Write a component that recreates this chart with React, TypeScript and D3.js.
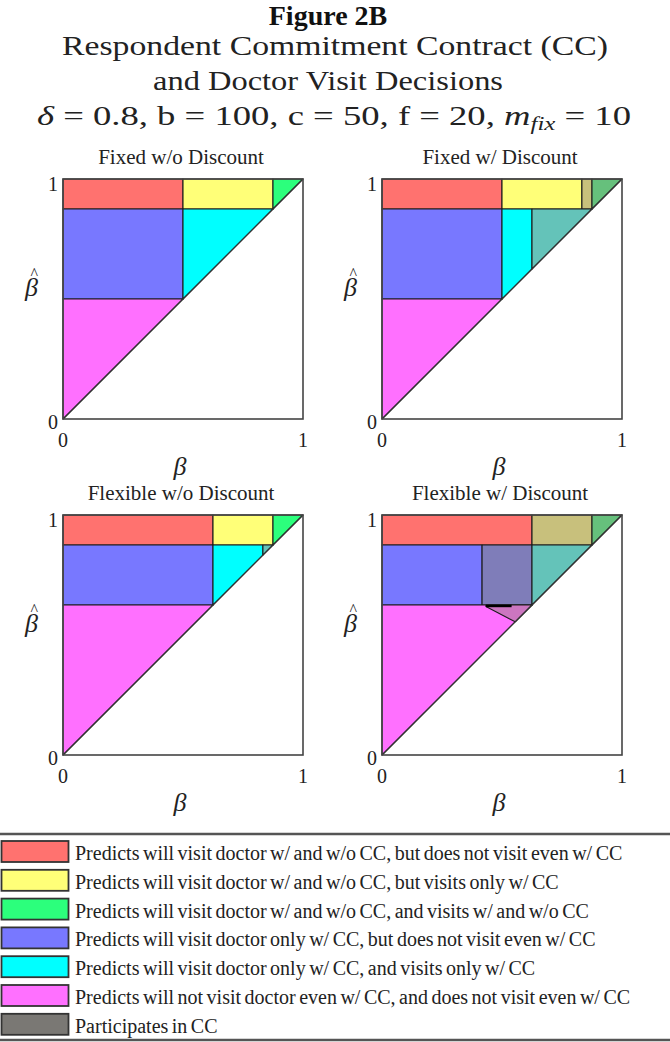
import React from "react";
import * as d3 from "d3";

type Pt = [number, number];
type Region = { fill: string; points: Pt[] };

// Legend categories, in drawing order
const LEGEND_KEYS = ["red", "yellow", "green", "blue", "cyan", "magenta", "gray"];
const LEGEND_LABELS = [
  "Predicts will visit doctor w/ and w/o CC, but does not visit even w/ CC",
  "Predicts will visit doctor w/ and w/o CC, but visits only w/ CC",
  "Predicts will visit doctor w/ and w/o CC, and visits w/ and w/o CC",
  "Predicts will visit doctor only w/ CC, but does not visit even w/ CC",
  "Predicts will visit doctor only w/ CC, and visits only w/ CC",
  "Predicts will not visit doctor even w/ CC, and does not visit even w/ CC",
  "Participates in CC",
];

// Base fills plus the darker fills used where the respondent participates in the CC
const FILLS: Record<string, string> = {
  red: "#ff726f",
  yellow: "#ffff78",
  green: "#2cff7c",
  blue: "#7878ff",
  cyan: "#00ffff",
  magenta: "#ff70ff",
  gray: "#7a7874",
  yellowCC: "#c8c07c",
  greenCC: "#66c07c",
  blueCC: "#7f7db9",
  cyanCC: "#64c3b9",
  magentaCC: "#cc76c0",
};

const PANEL_TITLES = [
  "Fixed w/o Discount",
  "Fixed w/ Discount",
  "Flexible w/o Discount",
  "Flexible w/ Discount",
];

const AXIS_TICKS = [0, 1];

// Decision regions in (β, β̂) space
const fixedNoDiscount: Region[] = [
  { fill: "red", points: [[0, 0.875], [0.5, 0.875], [0.5, 1], [0, 1]] },
  { fill: "yellow", points: [[0.5, 0.875], [0.875, 0.875], [0.875, 1], [0.5, 1]] },
  { fill: "green", points: [[0.875, 0.875], [1, 1], [0.875, 1]] },
  { fill: "blue", points: [[0, 0.5], [0.5, 0.5], [0.5, 0.875], [0, 0.875]] },
  { fill: "cyan", points: [[0.5, 0.5], [0.875, 0.875], [0.5, 0.875]] },
  { fill: "magenta", points: [[0, 0], [0.5, 0.5], [0, 0.5]] },
];

const fixedDiscount: Region[] = [
  { fill: "red", points: [[0, 0.875], [0.5, 0.875], [0.5, 1], [0, 1]] },
  { fill: "yellow", points: [[0.5, 0.875], [0.833, 0.875], [0.833, 1], [0.5, 1]] },
  { fill: "yellowCC", points: [[0.833, 0.875], [0.875, 0.875], [0.875, 1], [0.833, 1]] },
  { fill: "greenCC", points: [[0.875, 0.875], [1, 1], [0.875, 1]] },
  { fill: "blue", points: [[0, 0.5], [0.5, 0.5], [0.5, 0.875], [0, 0.875]] },
  { fill: "cyan", points: [[0.5, 0.5], [0.625, 0.625], [0.625, 0.875], [0.5, 0.875]] },
  { fill: "cyanCC", points: [[0.625, 0.625], [0.875, 0.875], [0.625, 0.875]] },
  { fill: "magenta", points: [[0, 0], [0.5, 0.5], [0, 0.5]] },
];

const flexibleNoDiscount: Region[] = [
  { fill: "red", points: [[0, 0.875], [0.625, 0.875], [0.625, 1], [0, 1]] },
  { fill: "yellow", points: [[0.625, 0.875], [0.875, 0.875], [0.875, 1], [0.625, 1]] },
  { fill: "green", points: [[0.875, 0.875], [1, 1], [0.875, 1]] },
  { fill: "blue", points: [[0, 0.625], [0.625, 0.625], [0.625, 0.875], [0, 0.875]] },
  { fill: "cyan", points: [[0.625, 0.625], [0.833, 0.833], [0.833, 0.875], [0.625, 0.875]] },
  { fill: "cyanCC", points: [[0.833, 0.833], [0.875, 0.875], [0.833, 0.875]] },
  { fill: "magenta", points: [[0, 0], [0.625, 0.625], [0, 0.625]] },
];

const flexibleDiscount: Region[] = [
  { fill: "red", points: [[0, 0.875], [0.625, 0.875], [0.625, 1], [0, 1]] },
  { fill: "yellowCC", points: [[0.625, 0.875], [0.875, 0.875], [0.875, 1], [0.625, 1]] },
  { fill: "greenCC", points: [[0.875, 0.875], [1, 1], [0.875, 1]] },
  { fill: "blue", points: [[0, 0.625], [0.417, 0.625], [0.417, 0.875], [0, 0.875]] },
  { fill: "blueCC", points: [[0.417, 0.625], [0.625, 0.625], [0.625, 0.875], [0.417, 0.875]] },
  { fill: "cyanCC", points: [[0.625, 0.625], [0.875, 0.875], [0.625, 0.875]] },
  { fill: "magenta", points: [[0, 0], [0.625, 0.625], [0, 0.625]] },
  { fill: "magentaCC", points: [[0.433, 0.625], [0.625, 0.625], [0.555, 0.555], [0.433, 0.619]] },
];

// Participation threshold edge drawn heavier in the flexible/discount panel
const flexibleDiscountEdge: Pt[] = [[0.433, 0.621], [0.54, 0.621]];

const PANEL_REGIONS = [fixedNoDiscount, fixedDiscount, flexibleNoDiscount, flexibleDiscount];
const PANEL_EDGES: (Pt[] | null)[] = [null, null, null, flexibleDiscountEdge];

const SERIF = "'Liberation Serif', 'Times New Roman', serif";
const SIZE = 240;
const COL_LEFT = [63, 382];
const ROW_TOP = [179, 515];

function Panel({ index }: { index: number }) {
  const left = COL_LEFT[index % 2];
  const top = ROW_TOP[Math.floor(index / 2)];
  const x = d3.scaleLinear().domain([0, 1]).range([left, left + SIZE]);
  const y = d3.scaleLinear().domain([0, 1]).range([top + SIZE, top]);
  const line = d3.line<Pt>().x((d) => x(d[0])).y((d) => y(d[1]));
  const regions = PANEL_REGIONS[index];
  const edge = PANEL_EDGES[index];
  const cx = (x(0) + x(1)) / 2;

  return (
    <g>
      <text x={cx - 2} y={top - 15} textAnchor="middle" fontFamily={SERIF} fontSize={21} fill="#222">
        {PANEL_TITLES[index]}
      </text>
      {regions.map((r, i) => (
        <path
          key={i}
          d={line(r.points) + "Z"}
          fill={FILLS[r.fill]}
          stroke="#1c1c1c"
          strokeWidth={1.1}
          strokeLinejoin="round"
        />
      ))}
      {edge && <path d={line(edge) ?? ""} fill="none" stroke="#000" strokeWidth={2.5} />}
      <path d={line([[0, 0], [1, 1]]) ?? ""} fill="none" stroke="#333" strokeWidth={1.1} />
      <rect x={x(0)} y={y(1)} width={SIZE} height={SIZE} fill="none" stroke="#444" strokeWidth={1.6} />

      {AXIS_TICKS.map((t) => (
        <text
          key={"y" + t}
          x={x(0) - 5}
          y={t === 1 ? y(1) + 12 : y(0) + 10}
          textAnchor="end"
          fontFamily={SERIF}
          fontSize={20}
          fill="#222"
        >
          {t}
        </text>
      ))}
      {AXIS_TICKS.map((t) => (
        <text key={"x" + t} x={x(t)} y={y(0) + 28} textAnchor="middle" fontFamily={SERIF} fontSize={20} fill="#222">
          {t}
        </text>
      ))}

      <text x={cx - 3} y={y(0) + 56} textAnchor="middle" fontFamily={SERIF} fontStyle="italic" fontSize={26} fill="#222">
        β
      </text>
      {/* β-hat: the circumflex is stacked over the β in the same text run */}
      <text x={x(0) - 38} y={top + 117} fontFamily={SERIF} fontStyle="italic" fontSize={26} fill="#222">
        <tspan>β</tspan>
        <tspan dx={-7.5} dy={-17} fontSize={16} fontStyle="normal">^</tspan>
      </text>
    </g>
  );
}

export default function App() {
  return (
    <svg
      width={670}
      height={1042}
      style={{ position: "absolute", left: 0, top: 0, background: "#fff" }}
    >
      <rect x={0} y={0} width={670} height={1042} fill="#fff" />
      <text x={328} y={25} textAnchor="middle" fontFamily={SERIF} fontWeight="bold" fontSize={28} fill="#111">
        Figure 2B
      </text>
      <text x={335} y={55} textAnchor="middle" fontFamily={SERIF} fontSize={28} fill="#222" textLength={546} lengthAdjust="spacingAndGlyphs">
        Respondent Commitment Contract (CC)
      </text>
      <text x={328} y={90} textAnchor="middle" fontFamily={SERIF} fontSize={28} fill="#222" textLength={350} lengthAdjust="spacingAndGlyphs">
        and Doctor Visit Decisions
      </text>
      <text x={334} y={125} textAnchor="middle" fontFamily={SERIF} fontSize={28} fill="#222" textLength={594} lengthAdjust="spacingAndGlyphs">
        <tspan fontStyle="italic">δ</tspan>
        <tspan> = 0.8, b = 100, c = 50, f = 20, </tspan>
        <tspan fontStyle="italic">m</tspan>
        <tspan fontStyle="italic" fontSize={19} dy={5}>fix</tspan>
        <tspan dy={-5}> = 10</tspan>
      </text>

      {PANEL_TITLES.map((_, i) => (
        <Panel key={i} index={i} />
      ))}

      <line x1={0} x2={670} y1={834} y2={834} stroke="#555" strokeWidth={2.5} />
      <line x1={0} x2={670} y1={1040} y2={1040} stroke="#555" strokeWidth={2.5} />
      {LEGEND_KEYS.map((k, i) => {
        const rowTop = 841 + i * 28.8;
        return (
          <g key={k}>
            <rect x={1.5} y={rowTop} width={67} height={21} fill={FILLS[k]} stroke="#333" strokeWidth={1.8} />
            <text x={75} y={rowTop + 19} fontFamily={SERIF} fontSize={20} wordSpacing={-1.5} fill="#222">
              {LEGEND_LABELS[i]}
            </text>
          </g>
        );
      })}
    </svg>
  );
}
